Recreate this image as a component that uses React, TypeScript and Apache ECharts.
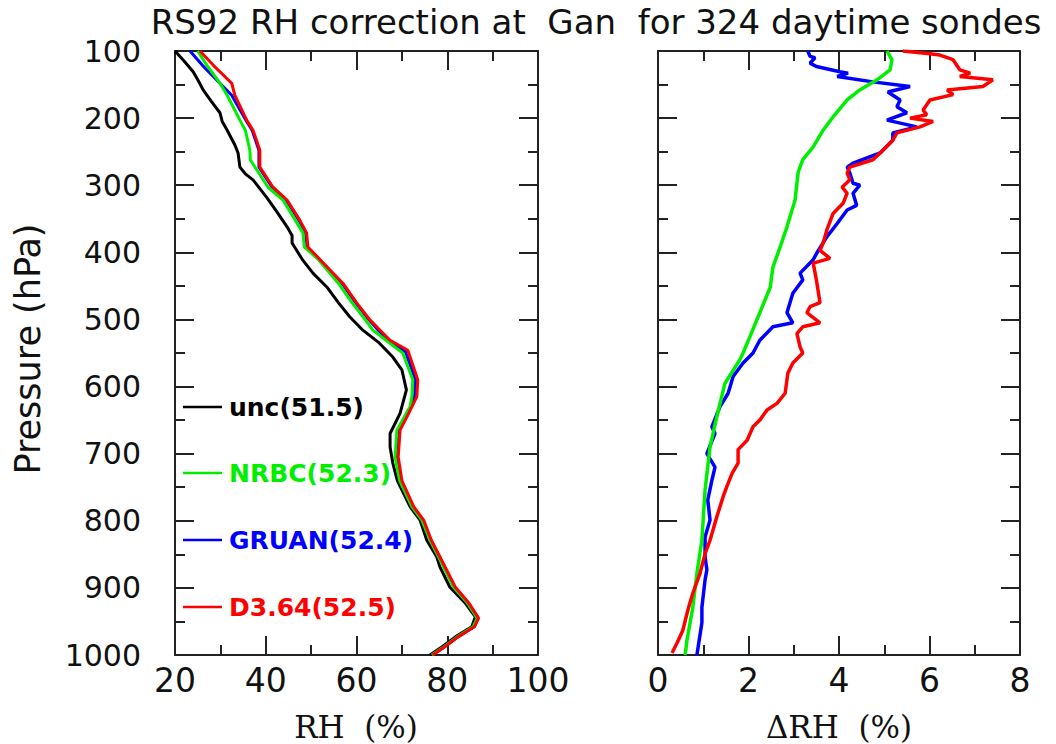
import React, { useEffect, useRef } from 'react';
import * as echarts from 'echarts';

// ---------- data: [value, pressure(hPa)] ----------
const pressureTicks = [100, 200, 300, 400, 500, 600, 700, 800, 900, 1000];
const rhTicks = [20, 40, 60, 80, 100];
const dRhTicks = [0, 2, 4, 6, 8];

const legendNames = ['unc(51.5)', 'NRBC(52.3)', 'GRUAN(52.4)', 'D3.64(52.5)'];

const uncRH = [
  [20, 100], [22, 115], [24, 131], [25.2, 145], [26.2, 158], [28, 175], [29.9, 192], [30.4, 205], [31.5, 218],
  [33.2, 240], [33.9, 252], [34.3, 273], [35.5, 283], [37.2, 292], [40.2, 318], [42.5, 340], [44.7, 362], [45.8, 375],
  [45.8, 386], [48, 410], [50.4, 431], [53.5, 452], [56, 475], [58.5, 496], [61.4, 516], [65, 535],
  [68, 556], [70, 575], [71, 605], [69.6, 640], [67.4, 670], [67.4, 690], [68, 714], [69, 740], [71.8, 779],
  [74, 799], [75.5, 829], [77.7, 854], [78.4, 869], [80.6, 899], [84, 923], [86.2, 943], [85.4, 958],
  [81.8, 973], [78.8, 988], [76.2, 1000],
];

const nrbcRH = [
  [25, 100], [27, 121], [29.9, 148], [31.5, 166], [34.3, 203], [35.5, 218], [36.5, 248], [36.6, 262], [38, 277],
  [40.5, 303], [43.8, 322], [46.5, 352], [48.2, 371], [48.5, 392], [51.5, 410], [54.1, 431], [56, 446],
  [59, 475], [62, 501], [63.6, 516], [66.5, 531], [70.2, 550], [72.4, 590], [72.2, 615], [71.8, 630],
  [68.9, 665], [68.5, 705], [69.5, 740], [72.2, 779], [74.4, 799], [76.2, 829], [78.1, 854], [81.4, 899],
  [84.5, 923], [86.6, 945], [85.7, 958], [82.2, 973], [79.2, 988], [76.6, 1000],
];

const gruanRH = [
  [23.3, 100], [26, 121], [29.9, 148], [32.5, 166], [35.6, 203], [37, 218], [38.5, 248], [38.5, 273],
  [41.4, 303], [44.5, 322], [47.3, 352], [48.8, 371], [49.1, 392], [54, 426], [56.8, 446], [59.8, 475],
  [62.8, 501], [64.8, 516], [67, 531], [70.8, 548], [73, 590], [72.8, 615], [71, 645], [69.2, 665],
  [68.9, 705], [69.8, 740], [72.4, 779], [74.6, 799], [76.4, 829], [78.3, 854], [81.6, 899], [84.7, 923],
  [86.8, 945], [85.9, 958], [82.3, 973], [79.3, 988], [76.7, 1000],
];

const d364RH = [
  [25.5, 100], [28.4, 121], [32.5, 148], [33.2, 166], [35.8, 203], [37.2, 218], [38.7, 248], [38.7, 273],
  [41.6, 303], [44.7, 322], [47.5, 352], [49, 371], [49.3, 392], [54.1, 426], [57, 446], [60, 475],
  [63, 501], [65.2, 516], [67.4, 531], [71.3, 546], [73.5, 590], [73.3, 615], [71.5, 640], [69.6, 665],
  [69.2, 705], [70, 740], [72.6, 779], [74.8, 799], [76.5, 829], [78.4, 854], [81.8, 899], [84.8, 923],
  [86.9, 945], [86, 958], [82.4, 973], [79.4, 988], [76.8, 1000],
];

const nrbcDiff = [
  [5.06, 100], [5.17, 113], [5.13, 128], [4.84, 143], [4.46, 158], [4.18, 173], [3.87, 198], [3.65, 218],
  [3.43, 243], [3.2, 262], [3.1, 280], [3.07, 297], [3.03, 322], [2.85, 362], [2.7, 392], [2.54, 422], [2.48, 452],
  [2.25, 490], [2.03, 526], [1.88, 550], [1.81, 560], [1.48, 595], [1.3, 645], [1.15, 690], [1.04, 754],
  [0.97, 829], [0.86, 878], [0.77, 929], [0.64, 978], [0.6, 1000],
];

const gruanDiff = [
  [3.31, 100], [3.36, 108], [3.47, 110], [3.36, 118], [3.5, 123], [4.02, 131], [4.2, 133], [3.96, 138],
  [4.75, 146], [5.57, 153], [5.08, 161], [5.35, 173], [5.28, 183], [5.5, 192], [5.06, 203], [5.72, 213],
  [5.19, 222], [5.19, 233], [4.91, 252], [4.31, 267], [4.18, 273], [4.24, 282], [4.31, 297], [4.46, 300],
  [4.31, 312], [4.39, 330], [4.18, 337], [3.96, 357], [3.73, 377], [3.51, 401], [3.43, 411], [3.14, 431],
  [3.2, 441], [2.98, 461], [2.85, 490], [2.98, 505], [2.54, 511], [2.25, 531], [2.1, 550], [1.88, 565],
  [1.66, 585], [1.55, 610], [1.37, 630], [1.19, 660], [1.26, 670], [1.08, 700], [1.26, 720], [1.19, 740],
  [1.1, 769], [1.15, 799], [1.04, 824], [1.04, 854], [1.08, 873], [1.04, 888], [0.97, 929], [0.97, 952],
  [0.86, 1000],
];

const d364Diff = [
  [5.41, 100], [6.01, 104], [6.23, 106], [6.52, 113], [6.67, 128], [6.9, 133], [6.67, 138], [7.4, 143],
  [7.18, 153], [6.39, 158], [6.52, 165], [6.01, 173], [5.86, 188], [5.94, 195], [5.57, 200], [6.08, 205],
  [5.79, 213], [5.28, 222], [5.19, 233], [4.91, 252], [4.75, 262], [4.24, 273], [4.18, 282], [4.24, 292],
  [4.07, 303], [4.18, 312], [4.09, 327], [3.87, 342], [3.73, 367], [3.65, 386], [3.58, 397], [3.8, 409],
  [3.43, 416], [3.5, 441], [3.58, 475], [3.36, 481], [3.29, 490], [3.58, 505], [3.2, 511], [3.07, 521],
  [3.14, 541], [3.2, 550], [2.98, 565], [2.87, 580], [2.81, 610], [2.63, 625], [2.41, 635], [2.25, 650],
  [2.1, 660], [1.97, 680], [1.77, 694], [1.77, 714], [1.64, 729], [1.52, 749], [1.44, 764], [1.3, 794],
  [1.15, 829], [1.04, 849], [0.93, 878], [0.77, 908], [0.66, 933], [0.55, 963], [0.42, 982], [0.31, 997],
];

const COLORS = ['#000000', '#00ee00', '#0000ff', '#ff0000'];

// ---------- options ----------
const axisColor = '#222';
const FONT = 'DejaVu Sans';

function axisBase(extra: any) {
  return {
    type: 'value',
    axisLine: { show: true, onZero: false, lineStyle: { color: axisColor, width: 2 } },
    axisTick: { show: true, inside: true, length: 19, lineStyle: { color: axisColor, width: 2 } },
    minorTick: { show: true, splitNumber: 2, length: 10, lineStyle: { color: axisColor, width: 2 } },
    splitLine: { show: false },
    ...extra,
  };
}

const yLabel = {
  show: true,
  margin: 34,
  fontFamily: FONT,
  fontSize: 30,
  color: '#111',
  formatter: (v: number) => (pressureTicks.includes(v) ? String(v) : ''),
};

const yCommon = { min: pressureTicks[0], max: pressureTicks[pressureTicks.length - 1], interval: 100, inverse: true };

function makeOption() {
  const legendTop = [407, 473, 540, 607];
  const graphic: any[] = [
    {
      type: 'text', x: 596, y: 22,
      style: { text: 'RS92 RH correction at  Gan  for 324 daytime sondes', font: `34px ${FONT}`, fill: '#111', textAlign: 'center', textVerticalAlign: 'middle' },
    },
    {
      type: 'text', x: 356, y: 727,
      style: { text: 'RH  (%)', font: '31px "DejaVu Serif"', fill: '#111', textAlign: 'center', textVerticalAlign: 'middle' },
    },
    {
      type: 'text', x: 839, y: 727,
      style: { text: '\u0394RH  (%)', font: '31px "DejaVu Serif"', fill: '#111', textAlign: 'center', textVerticalAlign: 'middle' },
    },
    {
      type: 'text', x: 28, y: 349, rotation: Math.PI / 2,
      style: { text: 'Pressure (hPa)', font: `35px ${FONT}`, fill: '#111', textAlign: 'center', textVerticalAlign: 'middle' },
    },
  ];
  legendNames.forEach((name, i) => {
    graphic.push({
      type: 'line', shape: { x1: 183, y1: legendTop[i], x2: 222, y2: legendTop[i] },
      style: { stroke: COLORS[i], lineWidth: 2.5 },
    });
    graphic.push({
      type: 'text', x: 229, y: legendTop[i],
      style: { text: name, font: `bold 25px ${FONT}`, fill: COLORS[i], textAlign: 'left', textVerticalAlign: 'middle' },
    });
  });

  const lineSeries = (name: string, data: number[][], color: string, axisIdx: number, width: number) => ({
    name, type: 'line', data, xAxisIndex: axisIdx, yAxisIndex: axisIdx,
    showSymbol: false, symbol: 'none', smooth: false,
    lineStyle: { color, width }, silent: true, clip: true,
  });

  return {
    animation: false,
    backgroundColor: '#ffffff',
    grid: [
      { left: 175, top: 51, width: 363, height: 604 },
      { left: 658, top: 51, width: 362, height: 604 },
    ],
    xAxis: [
      axisBase({ gridIndex: 0, position: 'bottom', min: rhTicks[0], max: rhTicks[rhTicks.length - 1], interval: 20,
        axisLabel: { show: true, margin: 9, fontFamily: FONT, fontSize: 33, color: '#111' } }),
      axisBase({ gridIndex: 1, position: 'bottom', min: dRhTicks[0], max: dRhTicks[dRhTicks.length - 1], interval: 2,
        axisLabel: { show: true, margin: 9, fontFamily: FONT, fontSize: 33, color: '#111' } }),
      axisBase({ gridIndex: 0, position: 'top', min: rhTicks[0], max: rhTicks[rhTicks.length - 1], interval: 20, axisLabel: { show: false } }),
      axisBase({ gridIndex: 1, position: 'top', min: dRhTicks[0], max: dRhTicks[dRhTicks.length - 1], interval: 2, axisLabel: { show: false } }),
    ],
    yAxis: [
      axisBase({ gridIndex: 0, position: 'left', ...yCommon, axisLabel: yLabel }),
      axisBase({ gridIndex: 1, position: 'left', ...yCommon, axisLabel: { show: false } }),
      axisBase({ gridIndex: 0, position: 'right', ...yCommon, axisLabel: { show: false } }),
      axisBase({ gridIndex: 1, position: 'right', ...yCommon, axisLabel: { show: false } }),
    ],
    series: [
      lineSeries(legendNames[0], uncRH, COLORS[0], 0, 3),
      lineSeries(legendNames[2], gruanRH, COLORS[2], 0, 3),
      lineSeries(legendNames[1], nrbcRH, COLORS[1], 0, 3),
      lineSeries(legendNames[3], d364RH, COLORS[3], 0, 3),
      lineSeries('GRUAN diff', gruanDiff, COLORS[2], 1, 3.5),
      lineSeries('NRBC diff', nrbcDiff, COLORS[1], 1, 3.5),
      lineSeries('D3.64 diff', d364Diff, COLORS[3], 1, 3.5),
    ],
    graphic,
  };
}

export default function App() {
  const ref = useRef<HTMLDivElement>(null);
  useEffect(() => {
    document.body.style.margin = '0';
    const chart = echarts.init(ref.current as HTMLDivElement, null, { renderer: 'svg' });
    chart.setOption(makeOption() as any);
    return () => chart.dispose();
  }, []);
  return <div ref={ref} style={{ width: 1056, height: 744, background: '#fff' }} />;
}
